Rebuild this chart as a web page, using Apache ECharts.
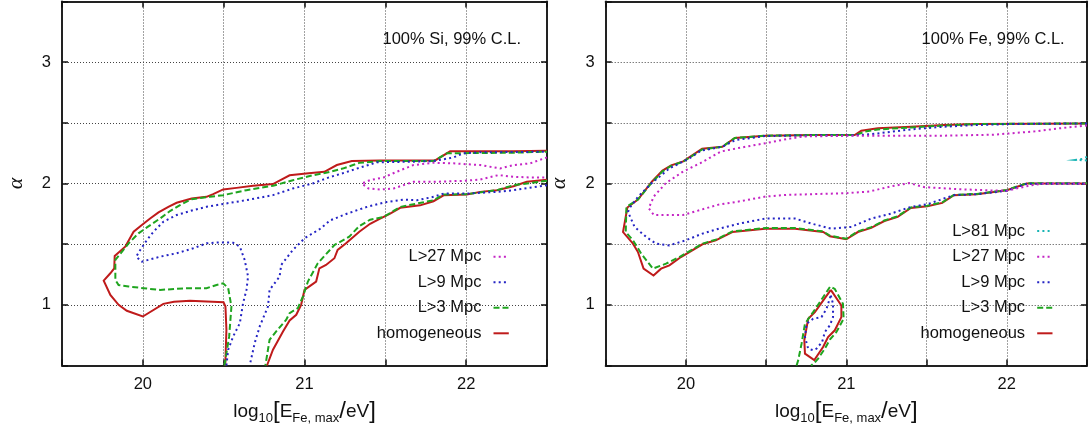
<!DOCTYPE html>
<html>
<head>
<meta charset="utf-8">
<script src="https://cdn.jsdelivr.net/npm/echarts@6/dist/echarts.min.js"></script>
<style>
html,body{margin:0;padding:0;background:#fff;}
#chart{width:1090px;height:433px;}
</style>
</head>
<body>
<div id="chart"></div>
<script>
// ---------- tick labels ----------
const xTickLabels = [20, 21, 22];
const yTickLabels = [1, 2, 3];
const panelNotes = ['100% Si, 99% C.L.', '100% Fe, 99% C.L.'];
const legendSi = ['L>27 Mpc', 'L>9 Mpc', 'L>3 Mpc', 'homogeneous'];
const legendFe = ['L>81 Mpc', 'L>27 Mpc', 'L>9 Mpc', 'L>3 Mpc', 'homogeneous'];

// ---------- left panel (100% Si) contours: [log10 Emax, alpha] ----------
const siHomogeneousA = [[20.51,0.5],[20.517,0.795],[20.511,0.986],[20.499,1.022],[20.394,1.027],[20.292,1.033],[20.193,1.025],[20.127,1.008],[20.0,0.904],[19.901,0.951],[19.85,1.0],[19.799,1.082],[19.758,1.2],[19.799,1.26],[19.823,1.30],[19.826,1.403],[19.891,1.479],[19.943,1.603],[19.994,1.658],[20.045,1.712],[20.097,1.762],[20.158,1.808],[20.209,1.841],[20.302,1.877],[20.394,1.89],[20.435,1.912],[20.497,1.951],[20.579,1.964],[20.682,1.981],[20.805,1.995],[20.908,2.068],[21.01,2.082],[21.123,2.096],[21.2,2.152],[21.293,2.185],[21.468,2.19],[21.674,2.19],[21.808,2.19],[21.901,2.265],[22.087,2.265],[22.29,2.265],[22.5,2.27]];
const siHomogeneousB = [[22.5,2.03],[22.375,2.014],[22.293,1.978],[22.19,1.945],[22.087,1.931],[22.004,1.909],[21.86,1.903],[21.798,1.854],[21.715,1.82],[21.592,1.80],[21.53,1.751],[21.468,1.71],[21.406,1.668],[21.339,1.603],[21.257,1.507],[21.205,1.452],[21.185,1.384],[21.133,1.329],[21.092,1.301],[21.072,1.192],[21.0,1.123],[20.979,1.0],[20.949,0.918],[20.908,0.871],[20.867,0.781],[20.805,0.63],[20.768,0.5]];
const siL3A = [[20.505,0.5],[20.534,0.74],[20.548,0.986],[20.528,1.137],[20.497,1.178],[20.456,1.164],[20.394,1.137],[20.271,1.137],[20.107,1.123],[20.004,1.137],[19.912,1.151],[19.85,1.163],[19.83,1.205],[19.83,1.37],[19.85,1.403],[19.912,1.507],[19.973,1.589],[20.025,1.638],[20.107,1.712],[20.168,1.773],[20.23,1.822],[20.302,1.871],[20.415,1.89],[20.497,1.904],[20.641,1.945],[20.805,1.981],[20.928,2.027],[21.051,2.068],[21.133,2.088],[21.236,2.123],[21.339,2.17],[21.468,2.185],[21.798,2.185],[21.88,2.249],[22.293,2.254],[22.5,2.262]];
const siL3B = [[22.5,2.022],[22.293,1.986],[22.19,1.945],[22.0,1.912],[21.86,1.909],[21.798,1.862],[21.592,1.807],[21.489,1.724],[21.406,1.702],[21.339,1.649],[21.277,1.562],[21.185,1.493],[21.082,1.342],[21.021,1.192],[20.99,1.068],[20.959,0.973],[20.908,0.932],[20.887,0.877],[20.825,0.781],[20.784,0.712],[20.758,0.5]];
const siL9A = [[20.517,0.5],[20.528,0.63],[20.559,0.74],[20.6,0.849],[20.62,1.014],[20.641,1.123],[20.651,1.233],[20.63,1.37],[20.6,1.479],[20.559,1.512],[20.476,1.515],[20.394,1.507],[20.312,1.466],[20.209,1.425],[20.107,1.397],[19.994,1.356],[19.959,1.397],[19.984,1.452],[20.025,1.534],[20.066,1.603],[20.127,1.685],[20.209,1.74],[20.312,1.781],[20.394,1.808],[20.517,1.836],[20.641,1.863],[20.805,1.904],[20.928,1.959],[21.051,2.0],[21.15,2.05],[21.25,2.09],[21.34,2.13],[21.45,2.175],[21.674,2.18],[21.798,2.185],[21.922,2.215],[21.984,2.249],[22.087,2.257],[22.5,2.262]];
const siL9B = [[22.5,1.986],[22.293,1.945],[22.19,1.931],[22.004,1.917],[21.86,1.917],[21.798,1.89],[21.695,1.862],[21.612,1.867],[21.509,1.848],[21.386,1.807],[21.262,1.751],[21.159,1.696],[21.097,1.627],[21.0,1.548],[20.928,1.452],[20.856,1.329],[20.846,1.233],[20.784,1.123],[20.774,0.986],[20.723,0.822],[20.692,0.685],[20.661,0.5]];
const siL27 = [[22.5,2.215],[22.396,2.166],[22.293,2.152],[22.21,2.124],[22.087,2.152],[21.922,2.166],[21.798,2.171],[21.674,2.152],[21.571,2.097],[21.489,2.05],[21.406,2.028],[21.355,2.0],[21.396,1.959],[21.468,1.95],[21.551,1.959],[21.674,2.014],[21.798,2.014],[21.984,2.022],[22.087,2.033],[22.2,2.069],[22.293,2.055],[22.396,2.05],[22.5,2.05]];

// ---------- right panel (100% Fe) contours ----------
const feHomogeneous = [[22.5,2.495],[21.814,2.49],[21.608,2.482],[21.402,2.468],[21.196,2.455],[21.093,2.435],[21.052,2.399],[20.784,2.399],[20.495,2.394],[20.305,2.375],[20.227,2.303],[20.101,2.287],[19.983,2.182],[19.908,2.149],[19.854,2.107],[19.789,2.017],[19.701,1.868],[19.635,1.802],[19.608,1.6],[19.67,1.504],[19.701,1.435],[19.736,1.298],[19.798,1.242],[19.845,1.298],[19.897,1.325],[19.969,1.394],[20.103,1.499],[20.186,1.532],[20.289,1.6],[20.495,1.628],[20.68,1.628],[20.856,1.6],[20.897,1.565],[21.0,1.54],[21.072,1.6],[21.155,1.634],[21.237,1.691],[21.32,1.725],[21.402,1.799],[21.505,1.813],[21.598,1.84],[21.67,1.904],[21.814,1.912],[22.0,1.945],[22.124,2.0],[22.5,2.0]];
const feHomogeneousIsland = [[20.903,1.123],[20.969,0.995],[20.969,0.899],[20.928,0.79],[20.886,0.735],[20.855,0.653],[20.8,0.544],[20.742,0.598],[20.738,0.708],[20.762,0.885],[20.804,0.94],[20.903,1.123]];
const feL3 = [[22.5,2.495],[21.814,2.49],[21.608,2.478],[21.402,2.462],[21.196,2.445],[21.113,2.427],[21.06,2.4],[20.784,2.399],[20.495,2.394],[20.305,2.375],[20.227,2.303],[20.101,2.28],[19.983,2.18],[19.908,2.145],[19.854,2.1],[19.789,2.01],[19.701,1.868],[19.629,1.807],[19.625,1.6],[19.67,1.532],[19.722,1.421],[19.794,1.298],[19.876,1.339],[19.959,1.394],[20.103,1.504],[20.186,1.537],[20.289,1.605],[20.495,1.633],[20.68,1.633],[20.856,1.605],[20.897,1.57],[21.0,1.545],[21.072,1.605],[21.155,1.64],[21.237,1.695],[21.32,1.73],[21.402,1.803],[21.505,1.817],[21.598,1.845],[21.67,1.906],[21.814,1.914],[22.0,1.947],[22.124,2.002],[22.5,2.002]];
const feL3Island = [[20.69,0.5],[20.7,0.544],[20.721,0.68],[20.742,0.844],[20.793,0.94],[20.899,1.15],[20.928,1.131],[20.979,1.008],[20.983,0.885],[20.938,0.776],[20.897,0.713],[20.866,0.639],[20.824,0.557],[20.8,0.52],[20.78,0.5]];
const feL9 = [[22.5,2.495],[22.021,2.49],[21.814,2.482],[21.608,2.468],[21.402,2.446],[21.196,2.413],[21.093,2.399],[20.784,2.397],[20.495,2.391],[20.309,2.358],[20.227,2.303],[20.093,2.27],[20.021,2.207],[19.897,2.124],[19.784,2.0],[19.701,1.89],[19.65,1.8],[19.639,1.766],[19.68,1.642],[19.753,1.559],[19.814,1.504],[19.897,1.49],[20.0,1.532],[20.103,1.587],[20.206,1.628],[20.33,1.669],[20.495,1.711],[20.68,1.711],[20.784,1.669],[20.907,1.628],[21.031,1.642],[21.155,1.711],[21.278,1.752],[21.402,1.807],[21.505,1.829],[21.608,1.876],[21.67,1.904],[21.814,1.912],[22.0,1.94],[22.124,1.998],[22.5,1.998]];
const feL9Island = [[20.903,1.077],[20.917,1.008],[20.917,0.899],[20.897,0.831],[20.866,0.776],[20.849,0.694],[20.814,0.639],[20.793,0.626],[20.762,0.639],[20.742,0.735],[20.752,0.844],[20.793,0.885],[20.845,0.899],[20.876,0.967],[20.903,1.077]];
const feL27 = [[22.5,2.478],[22.33,2.455],[22.176,2.43],[21.918,2.402],[21.596,2.394],[21.058,2.394],[20.735,2.388],[20.628,2.366],[20.499,2.333],[20.327,2.292],[20.219,2.264],[20.09,2.168],[19.983,2.099],[19.875,2.003],[19.8,1.893],[19.768,1.796],[19.8,1.741],[19.897,1.741],[19.983,1.741],[20.09,1.782],[20.198,1.824],[20.327,1.851],[20.499,1.893],[20.628,1.906],[20.994,1.92],[21.144,1.934],[21.273,1.975],[21.391,2.003],[21.488,1.97],[21.703,1.953],[21.918,1.942],[22.004,1.942],[22.133,1.98],[22.227,2.0],[22.5,2.0]];
const feL81 = [[22.5,2.22],[22.47,2.203],[22.43,2.195],[22.47,2.192],[22.5,2.19]];

// ---------- styles ----------
const FONT = '"Liberation Sans", Arial, Helvetica, sans-serif';
const TXT = '#111';
const lineStyles = {
  'homogeneous': { color: '#bf1b1b', width: 2, type: 'solid' },
  'L>3 Mpc':     { color: '#1fa51f', width: 2, type: [6, 3] },
  'L>9 Mpc':     { color: '#2424c4', width: 2, type: [2, 3.2] },
  'L>27 Mpc':    { color: '#c424c4', width: 2, type: [2, 3.2] },
  'L>81 Mpc':    { color: '#18b4b4', width: 2, type: [2, 3.2] }
};
const drawOrder = ['homogeneous', 'L>3 Mpc', 'L>9 Mpc', 'L>27 Mpc', 'L>81 Mpc'];

const panels = [
  { contours: { 'homogeneous': [siHomogeneousA, siHomogeneousB], 'L>3 Mpc': [siL3A, siL3B], 'L>9 Mpc': [siL9A, siL9B], 'L>27 Mpc': [siL27] },
    legend: legendSi, note: panelNotes[0], ox: 0 },
  { contours: { 'homogeneous': [feHomogeneous, feHomogeneousIsland], 'L>3 Mpc': [feL3, feL3Island], 'L>9 Mpc': [feL9, feL9Island], 'L>27 Mpc': [feL27], 'L>81 Mpc': [feL81] },
    legend: legendFe, note: panelNotes[1], ox: 543.7 }
];

const isInt = v => Math.abs(v - Math.round(v)) < 1e-9;
const gridLine = { show: true, lineStyle: { color: '#444', width: 1, type: [1, 2] } };
const frameLine = { show: true, lineStyle: { color: '#222', width: 2 } };
const ticks = { show: true, inside: true, length: 6, lineStyle: { color: '#111', width: 1.5 } };

const grids = [], xAxes = [], yAxes = [], series = [], graphics = [];

panels.forEach((p, g) => {
  grids.push({ left: 62 + p.ox, top: 1.5, width: 485, height: 364, containLabel: false });
  xAxes.push({
    gridIndex: g, type: 'value', position: 'bottom', min: 19.5, max: 22.5, interval: 0.5,
    axisLine: frameLine, axisTick: ticks, splitLine: gridLine,
    axisLabel: { show: true, margin: 10, fontFamily: FONT, fontSize: 16.5, color: TXT,
      formatter: v => (isInt(v) && xTickLabels.includes(Math.round(v))) ? String(Math.round(v)) : '' },
    name: '{t|log}{s|10}{b|[}{t|E}{s|Fe, max}{b|/}{t|eV}{b|]}',
    nameLocation: 'middle', nameGap: 33,
    nameTextStyle: { rich: {
      t: { fontFamily: FONT, fontSize: 19, color: TXT, lineHeight: 26, verticalAlign: 'middle' },
      s: { fontFamily: FONT, fontSize: 13, color: TXT, lineHeight: 13, verticalAlign: 'bottom' },
      b: { fontFamily: FONT, fontSize: 24, color: TXT, lineHeight: 26, verticalAlign: 'middle', fontWeight: 'lighter' }
    } }
  });
  xAxes.push({
    gridIndex: g, type: 'value', position: 'top', min: 19.5, max: 22.5, interval: 0.5,
    axisLine: frameLine, axisTick: ticks, splitLine: { show: false }, axisLabel: { show: false }
  });
  yAxes.push({
    gridIndex: g, type: 'value', position: 'left', min: 0.5, max: 3.5, interval: 0.5,
    axisLine: frameLine, axisTick: ticks, splitLine: gridLine,
    axisLabel: { show: true, margin: 11, fontFamily: FONT, fontSize: 16.5, color: TXT,
      formatter: v => (isInt(v) && yTickLabels.includes(Math.round(v))) ? String(Math.round(v)) : '' },
    name: '\u03b1', nameLocation: 'middle', nameGap: 35,
    nameTextStyle: { fontFamily: '"Liberation Serif", "DejaVu Serif", serif', fontStyle: 'italic', fontSize: 22, color: TXT }
  });
  yAxes.push({
    gridIndex: g, type: 'value', position: 'right', min: 0.5, max: 3.5, interval: 0.5,
    axisLine: frameLine, axisTick: ticks, splitLine: { show: false }, axisLabel: { show: false }
  });

  drawOrder.forEach((name, k) => {
    const branches = p.contours[name];
    if (!branches) return;
    branches.forEach(b => {
      series.push({
        type: 'line', name: name, xAxisIndex: 2 * g, yAxisIndex: 2 * g, data: b,
        symbol: 'none', showSymbol: false, smooth: false, clip: true, silent: true,
        lineStyle: Object.assign({ cap: 'butt', join: 'miter' }, lineStyles[name]),
        z: 3 + k
      });
    });
  });

  // annotation
  graphics.push({ type: 'text', z: 50, style: { text: p.note, x: 521 + p.ox, y: 39,
    font: '16.5px ' + FONT, fill: TXT, align: 'right', verticalAlign: 'middle', textAlign: 'right', textVerticalAlign: 'middle' } });
  // legend
  const n = p.legend.length;
  p.legend.forEach((name, i) => {
    const y = 333.3 - (n - 1 - i) * 25.55;
    graphics.push({ type: 'text', z: 50, style: { text: name, x: 481.4 + p.ox, y: y,
      font: '16.5px ' + FONT, fill: TXT, align: 'right', verticalAlign: 'middle', textAlign: 'right', textVerticalAlign: 'middle' } });
    const st = lineStyles[name];
    graphics.push({ type: 'line', z: 50, shape: { x1: 493.5 + p.ox, y1: y, x2: 508.8 + p.ox, y2: y },
      style: { stroke: st.color, lineWidth: st.width, lineDash: Array.isArray(st.type) ? st.type : null } });
  });
});

const chart = echarts.init(document.getElementById('chart'), null, { renderer: 'canvas', width: 1090, height: 433 });
chart.setOption({
  animation: false,
  backgroundColor: '#ffffff',
  textStyle: { fontFamily: FONT },
  grid: grids, xAxis: xAxes, yAxis: yAxes, series: series, graphic: graphics
});
</script>
</body>
</html>
